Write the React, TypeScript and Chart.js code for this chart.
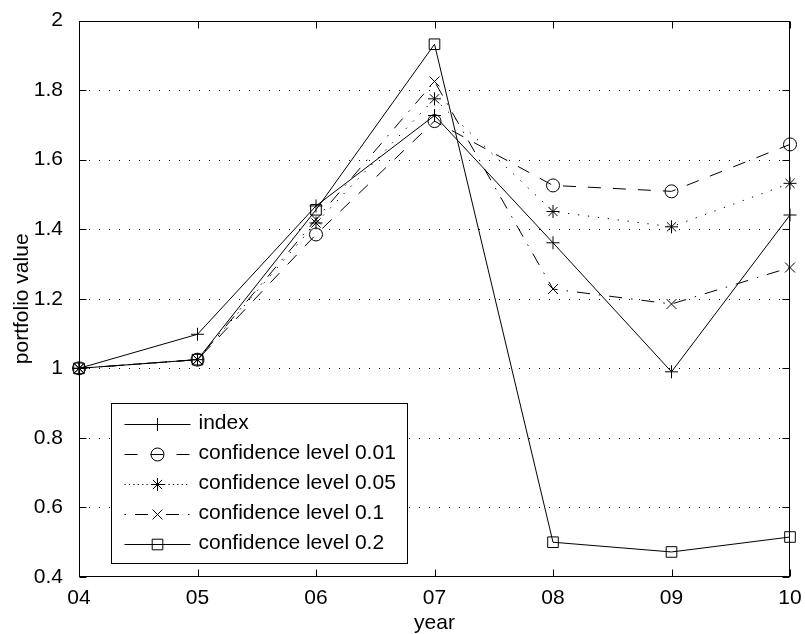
import React, { useEffect, useRef } from 'react';
import { Chart, registerables } from 'chart.js';
import { drawPoint } from 'chart.js/helpers';

Chart.register(...registerables);

// ---- data ----
const years = ['04', '05', '06', '07', '08', '09', '10'];
const indexValues = [1.0, 1.098, 1.467, 1.727, 1.361, 0.99, 1.441];
const conf001Values = [1.0, 1.025, 1.385, 1.711, 1.526, 1.509, 1.644];
const conf005Values = [1.0, 1.025, 1.418, 1.775, 1.451, 1.407, 1.532];
const conf01Values = [1.0, 1.025, 1.428, 1.825, 1.228, 1.185, 1.29];
const conf02Values = [1.0, 1.025, 1.456, 1.932, 0.5, 0.472, 0.515];
const seriesNames = [
  'index',
  'confidence level 0.01',
  'confidence level 0.05',
  'confidence level 0.1',
  'confidence level 0.2',
];
const seriesValues = [indexValues, conf001Values, conf005Values, conf01Values, conf02Values];
const yTickMin = 0.4;
const yTickMax = 2;
const yTickStep = 0.2;
const xTitle = 'year';
const yTitle = 'portfolio value';

// ---- styles ----
const FONT = "'Liberation Sans', Arial, Helvetica, sans-serif";
const FONT_SIZE = 21;
const pointStyles = ['cross', 'circle', 'star', 'crossRot', 'rect'];
const pointRadii = [6.5, 6.5, 6.5, 7, 7.5];
const lineDashes: number[][] = [[], [13, 12], [1.3, 8.7], [13, 9, 1.5, 9], []];
const legendDashes: number[][] = [[], [13, 13], [1.2, 3.2], [1.5, 9, 13, 18, 13, 9, 1.5, 40], []];

const matlabAxes = {
  id: 'matlabAxes',
  beforeDatasetsDraw(chart: any) {
    const { ctx, chartArea: a, scales } = chart;
    const y = scales.y;
    ctx.save();
    ctx.strokeStyle = '#000';
    ctx.lineWidth = 1;
    ctx.setLineDash([1, 9]);
    y.ticks.forEach((t: any) => {
      if (t.value <= yTickMin + 1e-9 || t.value >= yTickMax - 1e-9) return;
      const py = Math.round(y.getPixelForValue(t.value)) + 0.5;
      ctx.beginPath();
      ctx.moveTo(a.left, py);
      ctx.lineTo(a.right, py);
      ctx.stroke();
    });
    ctx.restore();
  },
  afterDraw(chart: any) {
    const { ctx, chartArea: a, scales } = chart;
    const x = scales.x;
    const y = scales.y;
    const L = Math.round(a.left) + 0.5;
    const R = Math.round(a.right) - 0.5;
    const T = Math.round(a.top) + 0.5;
    const B = Math.round(a.bottom) - 0.5;
    const tl = 7;
    ctx.save();
    ctx.strokeStyle = '#000';
    ctx.lineWidth = 1;
    ctx.setLineDash([]);
    ctx.strokeRect(L, T, R - L, B - T);
    ctx.beginPath();
    x.ticks.forEach((t: any, i: number) => {
      const px = Math.round(x.getPixelForTick(i)) + 0.5;
      ctx.moveTo(px, B);
      ctx.lineTo(px, B - tl);
      ctx.moveTo(px, T);
      ctx.lineTo(px, T + tl);
    });
    y.ticks.forEach((t: any) => {
      const py = Math.round(y.getPixelForValue(t.value)) + 0.5;
      ctx.moveTo(L, py);
      ctx.lineTo(L + tl, py);
      ctx.moveTo(R, py);
      ctx.lineTo(R - tl, py);
    });
    ctx.stroke();

    // legend
    const lx = L + 32;
    const ly = 403.5;
    const lw = 296;
    const rowH = 30;
    const lh = rowH * seriesNames.length + 10;
    ctx.fillStyle = '#fff';
    ctx.fillRect(lx, ly, lw, lh);
    ctx.strokeRect(lx, ly, lw, lh);
    const datasets = chart.data.datasets;
    datasets.forEach((ds: any, i: number) => {
      const cy = ly + 20 + i * rowH;
      const x0 = lx + 13;
      const x1 = lx + 79;
      const mx = (x0 + x1) / 2;
      ctx.save();
      ctx.strokeStyle = '#000';
      ctx.lineWidth = 1;
      ctx.setLineDash(legendDashes[i]);
      ctx.beginPath();
      ctx.moveTo(x0, Math.round(cy) + 0.5);
      ctx.lineTo(x1, Math.round(cy) + 0.5);
      ctx.stroke();
      ctx.setLineDash([]);
      ctx.fillStyle = 'rgba(0,0,0,0)';
      drawPoint(ctx, { pointStyle: ds.pointStyle, radius: ds.pointRadius, rotation: 0, borderWidth: 1 }, mx, Math.round(cy) + 0.5);
      ctx.restore();
      ctx.fillStyle = '#000';
      ctx.font = `${FONT_SIZE}px ${FONT}`;
      ctx.textBaseline = 'middle';
      ctx.textAlign = 'left';
      ctx.fillText(ds.label, lx + 87, cy);
    });
    ctx.restore();
  },
};

export default function App() {
  const ref = useRef<HTMLCanvasElement | null>(null);
  useEffect(() => {
    document.body.style.margin = '0';
    const canvas = ref.current;
    if (!canvas) return;
    const chart = new Chart(canvas, {
      type: 'line',
      data: {
        labels: years,
        datasets: seriesValues.map((vals, i) => ({
          label: seriesNames[i],
          data: vals,
          borderColor: '#000',
          borderWidth: 1,
          borderDash: lineDashes[i],
          backgroundColor: 'rgba(0,0,0,0)',
          pointStyle: pointStyles[i],
          pointRadius: pointRadii[i],
          pointHoverRadius: pointRadii[i],
          pointBorderColor: '#000',
          pointBackgroundColor: 'rgba(0,0,0,0)',
          pointBorderWidth: 1,
          tension: 0,
          fill: false,
        })),
      },
      options: {
        responsive: false,
        animation: false,
        devicePixelRatio: 1,
        layout: { padding: { top: 16, right: 15, left: 0, bottom: 0 } },
        plugins: {
          legend: { display: false },
          tooltip: { enabled: false },
        },
        scales: {
          x: {
            type: 'category',
            offset: false,
            grid: { display: false },
            border: { display: false },
            ticks: {
              autoSkip: false,
              maxRotation: 0,
              color: '#000',
              padding: 1,
              font: { family: FONT, size: FONT_SIZE },
            },
            title: {
              display: true,
              text: xTitle,
              color: '#000',
              font: { family: FONT, size: FONT_SIZE },
              padding: { top: 0, bottom: -2 },
            },
            afterFit: (s: any) => {
              s.height = 57;
            },
          },
          y: {
            type: 'linear',
            min: yTickMin,
            max: yTickMax,
            grid: { display: false },
            border: { display: false },
            ticks: {
              stepSize: yTickStep,
              color: '#000',
              padding: 8,
              font: { family: FONT, size: FONT_SIZE },
              callback: (v: any) => String(Math.round(Number(v) * 10) / 10),
            },
            title: {
              display: true,
              text: yTitle,
              color: '#000',
              font: { family: FONT, size: FONT_SIZE },
              padding: { top: 10, bottom: 0 },
            },
            afterFit: (s: any) => {
              s.width = 79;
            },
          },
        },
      },
      plugins: [matlabAxes],
    } as any);
    return () => chart.destroy();
  }, []);
  return (
    <div style={{ width: 805, height: 634 }}>
      <canvas ref={ref} width={805} height={634} style={{ display: 'block' }} />
    </div>
  );
}
